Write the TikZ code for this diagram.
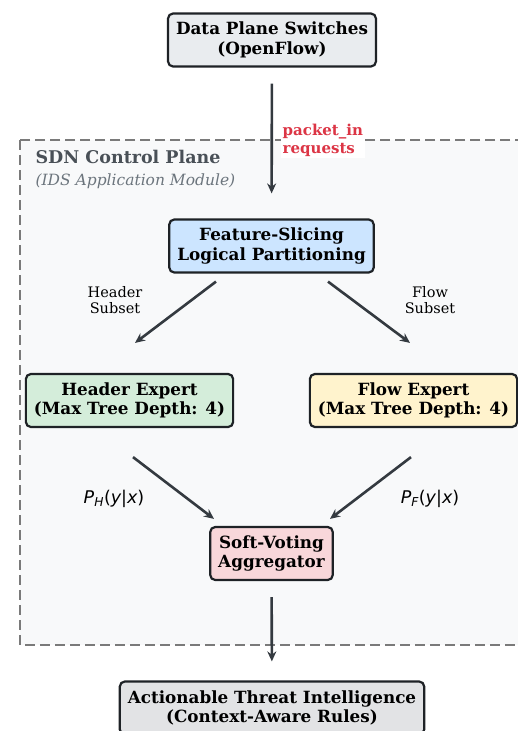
\documentclass[tikz,border=0pt]{standalone}
\usepackage{fontspec}
\setmainfont{DejaVu Serif}
\newfontfamily\dvsans{DejaVu Sans}
\usepackage{xcolor}
\usetikzlibrary{positioning, arrows.meta, backgrounds, calc}

\definecolor{edgegray}{HTML}{1E2226}
\definecolor{arrowgray}{HTML}{343A40}
\definecolor{planefill}{HTML}{F8F9FA}
\definecolor{planeedge}{HTML}{7A7A7A}
\definecolor{titlegray}{HTML}{495057}
\definecolor{subgray}{HTML}{6C757D}
\definecolor{pktred}{HTML}{DC3545}
\definecolor{switchfill}{HTML}{E9ECEF}
\definecolor{slicefill}{HTML}{CCE5FF}
\definecolor{headerfill}{HTML}{D4EDDA}
\definecolor{flowfill}{HTML}{FFF3CD}
\definecolor{votefill}{HTML}{F8D7DA}
\definecolor{outfill}{HTML}{E2E3E5}

\begin{document}
\begin{tikzpicture}[
    x=1pt, y=-1pt,
    box/.style={draw=edgegray, line width=2.2pt, rectangle, rounded corners=5pt, minimum height=53pt, inner xsep=8pt, align=center, font=\fontsize{16.8}{19.5}\selectfont\bfseries},
    switchbox/.style={box, fill=switchfill},
    slicebox/.style={box, fill=slicefill},
    headerbox/.style={box, fill=headerfill},
    flowbox/.style={box, fill=flowfill},
    votebox/.style={box, fill=votefill},
    outbox/.style={box, fill=outfill},
    arrow/.style={-{Stealth[length=10pt, width=9pt]}, line width=2.6pt, draw=arrowgray},
    sublabel/.style={align=center, font=\fontsize{14.5}{16}\selectfont},
    problabel/.style={font=\dvsans\fontsize{17.5}{20}\selectfont}
]
\useasboundingbox (0,0) rectangle (518,731);
\clip (0,0) rectangle (518,731);

% Control plane region
\draw[fill=planefill, draw=planeedge, line width=2.6pt, dash pattern=on 10pt off 5pt] (20,140) rectangle (540,645);
\node[anchor=west, text=titlegray, font=\fontsize{17.5}{20}\selectfont\bfseries] (plane_title) at (32,157) {SDN Control Plane};
\node[anchor=west, text=subgray, font=\fontsize{15.5}{18}\selectfont\itshape] (plane_sub) at (32,181) {(IDS Application Module)};

% Boxes
\node[switchbox] (switches) at (272,40) {Data Plane Switches \\ (OpenFlow)};
\node[slicebox] (slicer) at (271.5,246) {Feature-Slicing \\ Logical Partitioning};
\node[headerbox] (header) at (129.5,400.5) {Header Expert \\ (Max Tree Depth: 4)};
\node[flowbox] (flow) at (413.5,400.5) {Flow Expert \\ (Max Tree Depth: 4)};
\node[votebox] (voter) at (271.5,553.5) {Soft-Voting \\ Aggregator};
\node[outbox] (intel) at (272,708) {Actionable Threat Intelligence \\ (Context-Aware Rules)};

% Labels
\node[anchor=west, text=pktred, fill=white, inner sep=1.5pt, align=left, font=\fontsize{15}{18}\selectfont\bfseries] (pkt) at (281,140) {packet\_in \\ requests};
\node[sublabel] (hsub) at (115,300) {Header \\ Subset};
\node[sublabel] (fsub) at (430,300) {Flow \\ Subset};
\node[problabel] (ph) at (114,499) {\itshape P\textsubscript{H}\upshape(\itshape y\upshape|\itshape x\upshape)};
\node[problabel] (pf) at (430,499) {\itshape P\textsubscript{F}\upshape(\itshape y\upshape|\itshape x\upshape)};

% Arrows
\draw[arrow, shorten <=16pt, shorten >=25pt] (switches) -- (slicer);
\draw[arrow] ([xshift=-55.5pt, yshift=-8pt]slicer.south) -- ([xshift=5.5pt, yshift=30pt]header.north);
\draw[arrow] ([xshift=56.5pt, yshift=-8pt]slicer.south) -- ([xshift=-3.5pt, yshift=30pt]flow.north);
\draw[arrow] ([xshift=3.5pt, yshift=-29pt]header.south) -- ([xshift=-57.5pt, yshift=7pt]voter.north);
\draw[arrow] ([xshift=-2.5pt, yshift=-29pt]flow.south) -- ([xshift=58.5pt, yshift=7pt]voter.north);
\draw[arrow, shorten <=16pt, shorten >=19pt] (voter) -- (intel);

\end{tikzpicture}
\end{document}
